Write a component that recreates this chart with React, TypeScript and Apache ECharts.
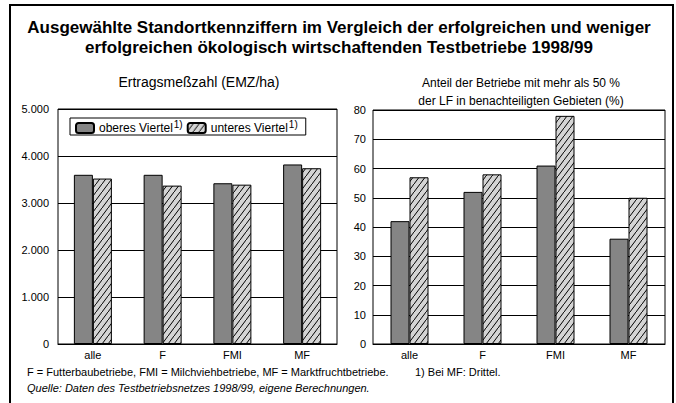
import React, { useEffect, useRef } from "react";
import * as echarts from "echarts";

const categories = ["alle", "F", "FMI", "MF"];
const seriesNames = ["oberes Viertel", "unteres Viertel"];
const emzOberes = [3600, 3600, 3420, 3820];
const emzUnteres = [3520, 3370, 3390, 3740];
const lfOberes = [42, 52, 61, 36];
const lfUnteres = [57, 58, 78, 50];

const titleText =
  "Ausgewählte Standortkennziffern im Vergleich der erfolgreichen und weniger\nerfolgreichen ökologisch wirtschaftenden Testbetriebe 1998/99";
const leftSubtitle = "Ertragsmeßzahl (EMZ/ha)";
const rightSubtitle =
  "Anteil der Betriebe mit mehr als 50 %\nder LF in benachteiligten Gebieten (%)";
const footer1 =
  "F = Futterbaubetriebe, FMI = Milchviehbetriebe, MF = Marktfruchtbetriebe.";
const footerNote = "1) Bei MF: Drittel.";
const footer2 = "Quelle: Daten des Testbetriebsnetzes 1998/99, eigene Berechnungen.";

const FONT = "'Liberation Sans', Arial, Helvetica, sans-serif";

const hatchSvg =
  '<svg xmlns="http://www.w3.org/2000/svg" width="6" height="8">' +
  '<rect width="6" height="8" fill="#d4d4d4"/>' +
  '<line x1="-1" y1="9.333" x2="7" y2="-1.333" stroke="#000" stroke-width="1"/>' +
  "</svg>";
const hatchUrl = "data:image/svg+xml;utf8," + encodeURIComponent(hatchSvg);

export default function App() {
  const ref = useRef<HTMLDivElement>(null);
  useEffect(() => {
    document.body.style.margin = "0";
    const chart = echarts.init(ref.current!, null, { renderer: "svg" });
    const hatch: any = { image: hatchUrl, repeat: "repeat", imageWidth: 6, imageHeight: 8 };
    const solidStyle = { color: "#858585", borderColor: "#000", borderWidth: 1 };
    const hatchStyle = { color: hatch, borderColor: "#000", borderWidth: 1 };
    const axisLabel = { color: "#000", fontFamily: FONT, fontSize: 11 };
    const thousand = (v: number) => (v === 0 ? "0" : (v / 1000).toFixed(3));
    chart.setOption({
      animation: false,
      backgroundColor: "#fff",
      legend: {
        show: true,
        left: 70,
        top: 118,
        data: seriesNames,
        itemWidth: 18,
        itemHeight: 10,
        itemGap: 4,
        padding: [1, 8, 1, 5],
        borderColor: "#000",
        borderWidth: 1,
        backgroundColor: "#fff",
        selectedMode: false,
        formatter: (name: string) => `{n|${name}}{s|1)}`,
        textStyle: {
          color: "#000",
          fontFamily: FONT,
          fontSize: 12,
          rich: {
            n: { fontFamily: FONT, fontSize: 12, color: "#000", lineHeight: 18 },
            s: { fontFamily: FONT, fontSize: 10, color: "#000", verticalAlign: "top", lineHeight: 11, padding: [0, 0, 0, 1] },
          },
        },
      },
      grid: [
        { left: 58, top: 109, width: 279, height: 235, show: true, borderColor: "#000", borderWidth: 1 },
        { left: 373, top: 110, width: 292, height: 234, show: true, borderColor: "#000", borderWidth: 1 },
      ],
      xAxis: [
        {
          type: "category", gridIndex: 0, data: categories,
          axisTick: { show: false },
          axisLine: { lineStyle: { color: "#000", width: 1 } },
          axisLabel: { ...axisLabel, margin: 5 },
        },
        {
          type: "category", gridIndex: 1, data: categories,
          axisTick: { show: false },
          axisLine: { lineStyle: { color: "#000", width: 1 } },
          axisLabel: { ...axisLabel, margin: 5 },
        },
      ],
      yAxis: [
        {
          type: "value", gridIndex: 0, min: 0, max: 5000, interval: 1000,
          axisLine: { show: false }, axisTick: { show: false },
          splitLine: { lineStyle: { color: "#000", width: 1 } },
          axisLabel: { ...axisLabel, margin: 9, formatter: thousand },
        },
        {
          type: "value", gridIndex: 1, min: 0, max: 80, interval: 10,
          axisLine: { show: false }, axisTick: { show: false },
          splitLine: { lineStyle: { color: "#000", width: 1 } },
          axisLabel: { ...axisLabel, margin: 7 },
        },
      ],
      series: [
        { name: seriesNames[0], type: "bar", xAxisIndex: 0, yAxisIndex: 0, data: emzOberes, barWidth: 19, barGap: "0%", itemStyle: solidStyle },
        { name: seriesNames[1], type: "bar", xAxisIndex: 0, yAxisIndex: 0, data: emzUnteres, barWidth: 19, barGap: "0%", itemStyle: hatchStyle },
        { name: seriesNames[0], type: "bar", xAxisIndex: 1, yAxisIndex: 1, data: lfOberes, barWidth: 19, barGap: "0%", itemStyle: solidStyle },
        { name: seriesNames[1], type: "bar", xAxisIndex: 1, yAxisIndex: 1, data: lfUnteres, barWidth: 19, barGap: "0%", itemStyle: hatchStyle },
      ],
      graphic: [
        { type: "rect", shape: { x: 10, y: 5, width: 663, height: 420 }, style: { fill: "none", stroke: "#000", lineWidth: 2 }, z: 100 },
        { type: "text", x: 339, y: 37, style: { text: titleText, font: `bold 17px ${FONT}`, fill: "#000", textAlign: "center", textVerticalAlign: "middle", lineHeight: 20 } },
        { type: "text", x: 199, y: 82, style: { text: leftSubtitle, font: `14px ${FONT}`, fill: "#000", textAlign: "center", textVerticalAlign: "middle" } },
        { type: "text", x: 521, y: 92, style: { text: rightSubtitle, font: `12px ${FONT}`, fill: "#000", textAlign: "center", textVerticalAlign: "middle", lineHeight: 18 } },
        { type: "text", x: 27, y: 372, style: { text: footer1, font: `11px ${FONT}`, fill: "#000", textAlign: "left", textVerticalAlign: "middle" } },
        { type: "text", x: 415, y: 372, style: { text: footerNote, font: `11px ${FONT}`, fill: "#000", textAlign: "left", textVerticalAlign: "middle" } },
        { type: "text", x: 27, y: 388, style: { text: footer2, font: `italic 11px ${FONT}`, fill: "#000", textAlign: "left", textVerticalAlign: "middle" } },
      ],
    });
    return () => chart.dispose();
  }, []);
  return <div ref={ref} style={{ width: 676, height: 403 }} />;
}
